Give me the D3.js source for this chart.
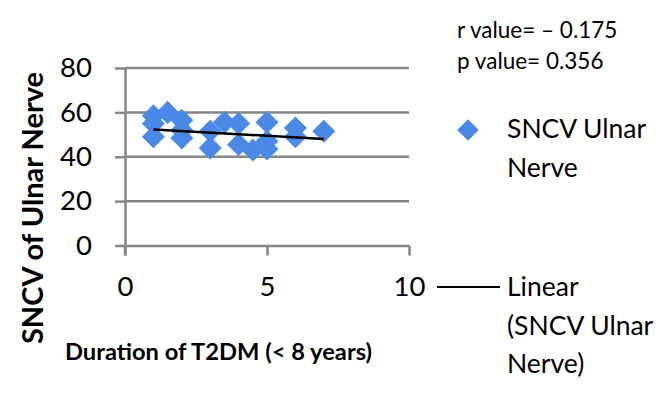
<!DOCTYPE html>
<html><head><meta charset="utf-8">
<script src="https://cdn.jsdelivr.net/npm/d3@7"></script>
<style>
html,body{margin:0;padding:0;background:#fff;}
svg{display:block;font-family:Lato,"Open Sans",sans-serif;}
</style></head>
<body>
<svg id="c" width="672" height="393"></svg>
<script>
// Data
const durationYears = [1, 1, 1, 1.5, 2, 2, 2, 3, 3, 3.5, 4, 4, 4.5, 5, 5, 5, 6, 6, 7];
const sncvUlnar     = [58.5, 55, 49, 60, 56.5, 52, 48.5, 51.5, 44, 55.5, 55, 45.5, 43, 55.5, 47, 43.5, 53, 49, 51.5];
const trendX = [1, 7];
const trendY = [52.3, 48.0];
const xTicks = [0, 5, 10];
const yTicks = [0, 20, 40, 60, 80];
const seriesName = ["SNCV Ulnar", "Nerve"];
const trendName = ["Linear", "(SNCV Ulnar", "Nerve)"];
const stats = ["r value= \u2013 0.175", "p value= 0.356"];
const xTitle = "Duration of T2DM (< 8 years)";
const yTitle = "SNCV of Ulnar Nerve";

const svg = d3.select("#c");
const gray = "#868686", blue = "#4a8ae6";
const x = d3.scaleLinear().domain([0, 10]).range([125, 409]);
const y = d3.scaleLinear().domain([0, 80]).range([245.5, 68]);

// gridlines
svg.append("g").selectAll("line").data(yTicks.filter(d => d > 0)).join("line")
  .attr("x1", x(0)).attr("x2", x(10))
  .attr("y1", d => y(d)).attr("y2", d => y(d))
  .attr("stroke", gray).attr("stroke-width", 2.5);

// axes
const yAxis = svg.append("g").attr("transform", `translate(${x(0)},0)`)
  .call(d3.axisLeft(y).tickValues(yTicks).tickSizeInner(10).tickSizeOuter(0).tickPadding(23));
const xAxis = svg.append("g").attr("transform", `translate(0,${y(0)})`)
  .call(d3.axisBottom(x).tickValues(xTicks).tickSizeInner(10).tickSizeOuter(0).tickPadding(21));
[yAxis, xAxis].forEach(g => {
  g.selectAll("path,line").attr("stroke", gray).attr("stroke-width", 2.5);
  g.selectAll("text").attr("fill", "#000").attr("font-size", 27.5).attr("font-family", "Lato");
});
// y-axis line extends down past x-axis to tick length
svg.append("line").attr("x1", x(0)).attr("x2", x(0)).attr("y1", y(0)).attr("y2", y(0) + 10)
  .attr("stroke", gray).attr("stroke-width", 2.5);

// points
const diamond = d3.symbol().type(d3.symbolSquare).size(265);
svg.append("g").selectAll("path").data(durationYears.map((d, i) => [d, sncvUlnar[i]])).join("path")
  .attr("d", diamond)
  .attr("transform", d => `translate(${x(d[0])},${y(d[1])}) rotate(45)`)
  .attr("fill", blue);

// trend line
svg.append("path")
  .datum(trendX.map((d, i) => [d, trendY[i]]))
  .attr("d", d3.line().x(d => x(d[0])).y(d => y(d[1])))
  .attr("stroke", "#000").attr("stroke-width", 2.5).attr("fill", "none");

// axis titles
svg.append("text").attr("transform", "translate(43,208) rotate(-90)")
  .attr("text-anchor", "middle").attr("font-weight", "bold").attr("font-size", 29)
  .text(yTitle);
svg.append("text").attr("x", 65).attr("y", 360)
  .attr("font-weight", "bold").attr("font-size", 23.7)
  .text(xTitle);

// stats
svg.append("g").selectAll("text").data(stats).join("text")
  .attr("x", 457).attr("y", (d, i) => 38 + i * 31)
  .attr("font-size", 22.5).text(d => d);

// legend
svg.append("path").attr("d", d3.symbol().type(d3.symbolSquare).size(230))
  .attr("transform", "translate(468,130) rotate(45)").attr("fill", blue);
svg.append("g").selectAll("text").data(seriesName).join("text")
  .attr("x", 507).attr("y", (d, i) => 138 + i * 38.5).attr("font-size", 26.5).text(d => d);
svg.append("line").attr("x1", 437).attr("x2", 500).attr("y1", 287).attr("y2", 287)
  .attr("stroke", "#000").attr("stroke-width", 2);
svg.append("g").selectAll("text").data(trendName).join("text")
  .attr("x", 507).attr("y", (d, i) => 296 + i * 38.5).attr("font-size", 26.5).text(d => d);
</script>
</body></html>
